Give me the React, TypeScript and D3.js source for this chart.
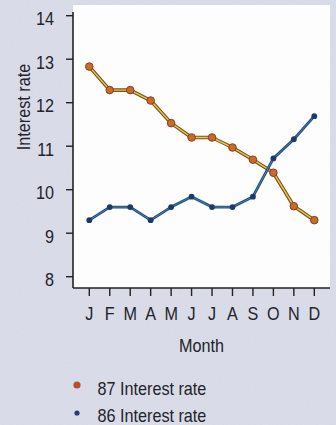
import React from "react";
import * as d3 from "d3";

const months = ["J", "F", "M", "A", "M2", "J2", "J3", "A2", "S", "O", "N", "D"];
const monthLabels = ["J", "F", "M", "A", "M", "J", "J", "A", "S", "O", "N", "D"];
const rate87 = [12.83, 12.29, 12.29, 12.05, 11.53, 11.2, 11.2, 10.97, 10.69, 10.39, 9.62, 9.3];
const rate86 = [9.3, 9.6, 9.6, 9.3, 9.6, 9.84, 9.6, 9.6, 9.84, 10.72, 11.16, 11.69];
const yTicks = [8, 9, 10, 11, 12, 13, 14];
const seriesNames = ["87 Interest rate", "86 Interest rate"];

const W = 336;
const H = 425;
const FONT = "'Liberation Sans', Arial, sans-serif";
const FS = 18;
const SQ = 0.9;
const TEXT = "#23232b";

type TProps = {
  x: number;
  y: number;
  anchor?: "start" | "middle" | "end";
  rotate?: number;
  baseline?: string;
  children: React.ReactNode;
};

function T({ x, y, anchor = "start", rotate = 0, baseline, children }: TProps) {
  return (
    <g transform={`translate(${x},${y}) rotate(${rotate}) scale(${SQ},1)`}>
      <text
        x={0}
        y={0}
        textAnchor={anchor}
        dominantBaseline={baseline}
        fontFamily={FONT}
        fontSize={FS}
        fill={TEXT}
      >
        {children}
      </text>
    </g>
  );
}

export default function App() {
  const x = d3.scalePoint<string>().domain(months).range([89.3, 314.3]);
  const y = d3.scaleLinear().domain([8, 14]).range([276.7, 15.7]);
  const line = d3
    .line<number>()
    .x((_, i) => x(months[i]) as number)
    .y((d) => y(d));

  const axisX = 73;
  const axisY = 288;
  const panelRight = 330;
  const panelTop = 5;

  return (
    <svg
      width={W}
      height={H}
      style={{ position: "absolute", left: 0, top: 0 }}
      xmlns="http://www.w3.org/2000/svg"
    >
      <defs>
        <filter id="grain" x="0" y="0" width="100%" height="100%">
          <feTurbulence type="fractalNoise" baseFrequency="0.9" numOctaves="2" seed="3" />
          <feColorMatrix type="saturate" values="0" />
          <feComponentTransfer>
            <feFuncA type="linear" slope="0.12" />
          </feComponentTransfer>
        </filter>
      </defs>
      <rect x={0} y={0} width={W} height={H} fill="#dadde9" />
      <rect x={0} y={0} width={W} height={H} filter="url(#grain)" opacity={0.6} />
      <rect
        x={axisX}
        y={panelTop}
        width={panelRight - axisX}
        height={axisY - panelTop}
        fill="#fdfdfe"
      />

      {/* y axis */}
      <line x1={axisX} x2={axisX} y1={12} y2={axisY} stroke="#222" strokeWidth={1.6} />
      {yTicks.map((t) => (
        <g key={t}>
          <line x1={axisX - 7} x2={axisX} y1={y(t)} y2={y(t)} stroke="#222" strokeWidth={1.4} />
          <T x={54} y={y(t) + 9.5} anchor="end">
            {t}
          </T>
        </g>
      ))}
      <T x={30} y={107} anchor="middle" rotate={-90}>
        Interest rate
      </T>

      {/* x axis */}
      <line x1={axisX} x2={panelRight} y1={axisY} y2={axisY} stroke="#222" strokeWidth={1.6} />
      {months.map((m, i) => (
        <g key={m}>
          <line
            x1={x(m) as number}
            x2={x(m) as number}
            y1={axisY}
            y2={axisY + 8}
            stroke="#222"
            strokeWidth={1.4}
          />
          <T x={x(m) as number} y={320} anchor="middle">
            {monthLabels[i]}
          </T>
        </g>
      ))}
      <T x={201.5} y={352} anchor="middle">
        Month
      </T>

      {/* 87 series */}
      <path d={line(rate87) || ""} fill="none" stroke="#7d4f1c" strokeWidth={3.6} strokeLinejoin="round" />
      <path d={line(rate87) || ""} fill="none" stroke="#e9c84a" strokeWidth={1.4} strokeLinejoin="round" />
      {rate87.map((v, i) => (
        <circle
          key={"o" + i}
          cx={x(months[i]) as number}
          cy={y(v)}
          r={3.8}
          fill="#c86a2c"
          stroke="#8a4018"
          strokeWidth={1}
        />
      ))}

      {/* 86 series */}
      <path d={line(rate86) || ""} fill="none" stroke="#1e4c78" strokeWidth={2.8} strokeLinejoin="round" />
      <path d={line(rate86) || ""} fill="none" stroke="#4f86b8" strokeWidth={0.9} strokeLinejoin="round" />
      {rate86.map((v, i) => (
        <circle key={"b" + i} cx={x(months[i]) as number} cy={y(v)} r={2.9} fill="#1b3a68" />
      ))}

      {/* legend */}
      <circle cx={77} cy={385} r={3.6} fill="#b5502a" />
      <T x={97.5} y={395}>
        {seriesNames[0]}
      </T>
      <circle cx={77} cy={413} r={2.6} fill="#2a3a78" />
      <T x={97.5} y={421.5}>
        {seriesNames[1]}
      </T>
    </svg>
  );
}
